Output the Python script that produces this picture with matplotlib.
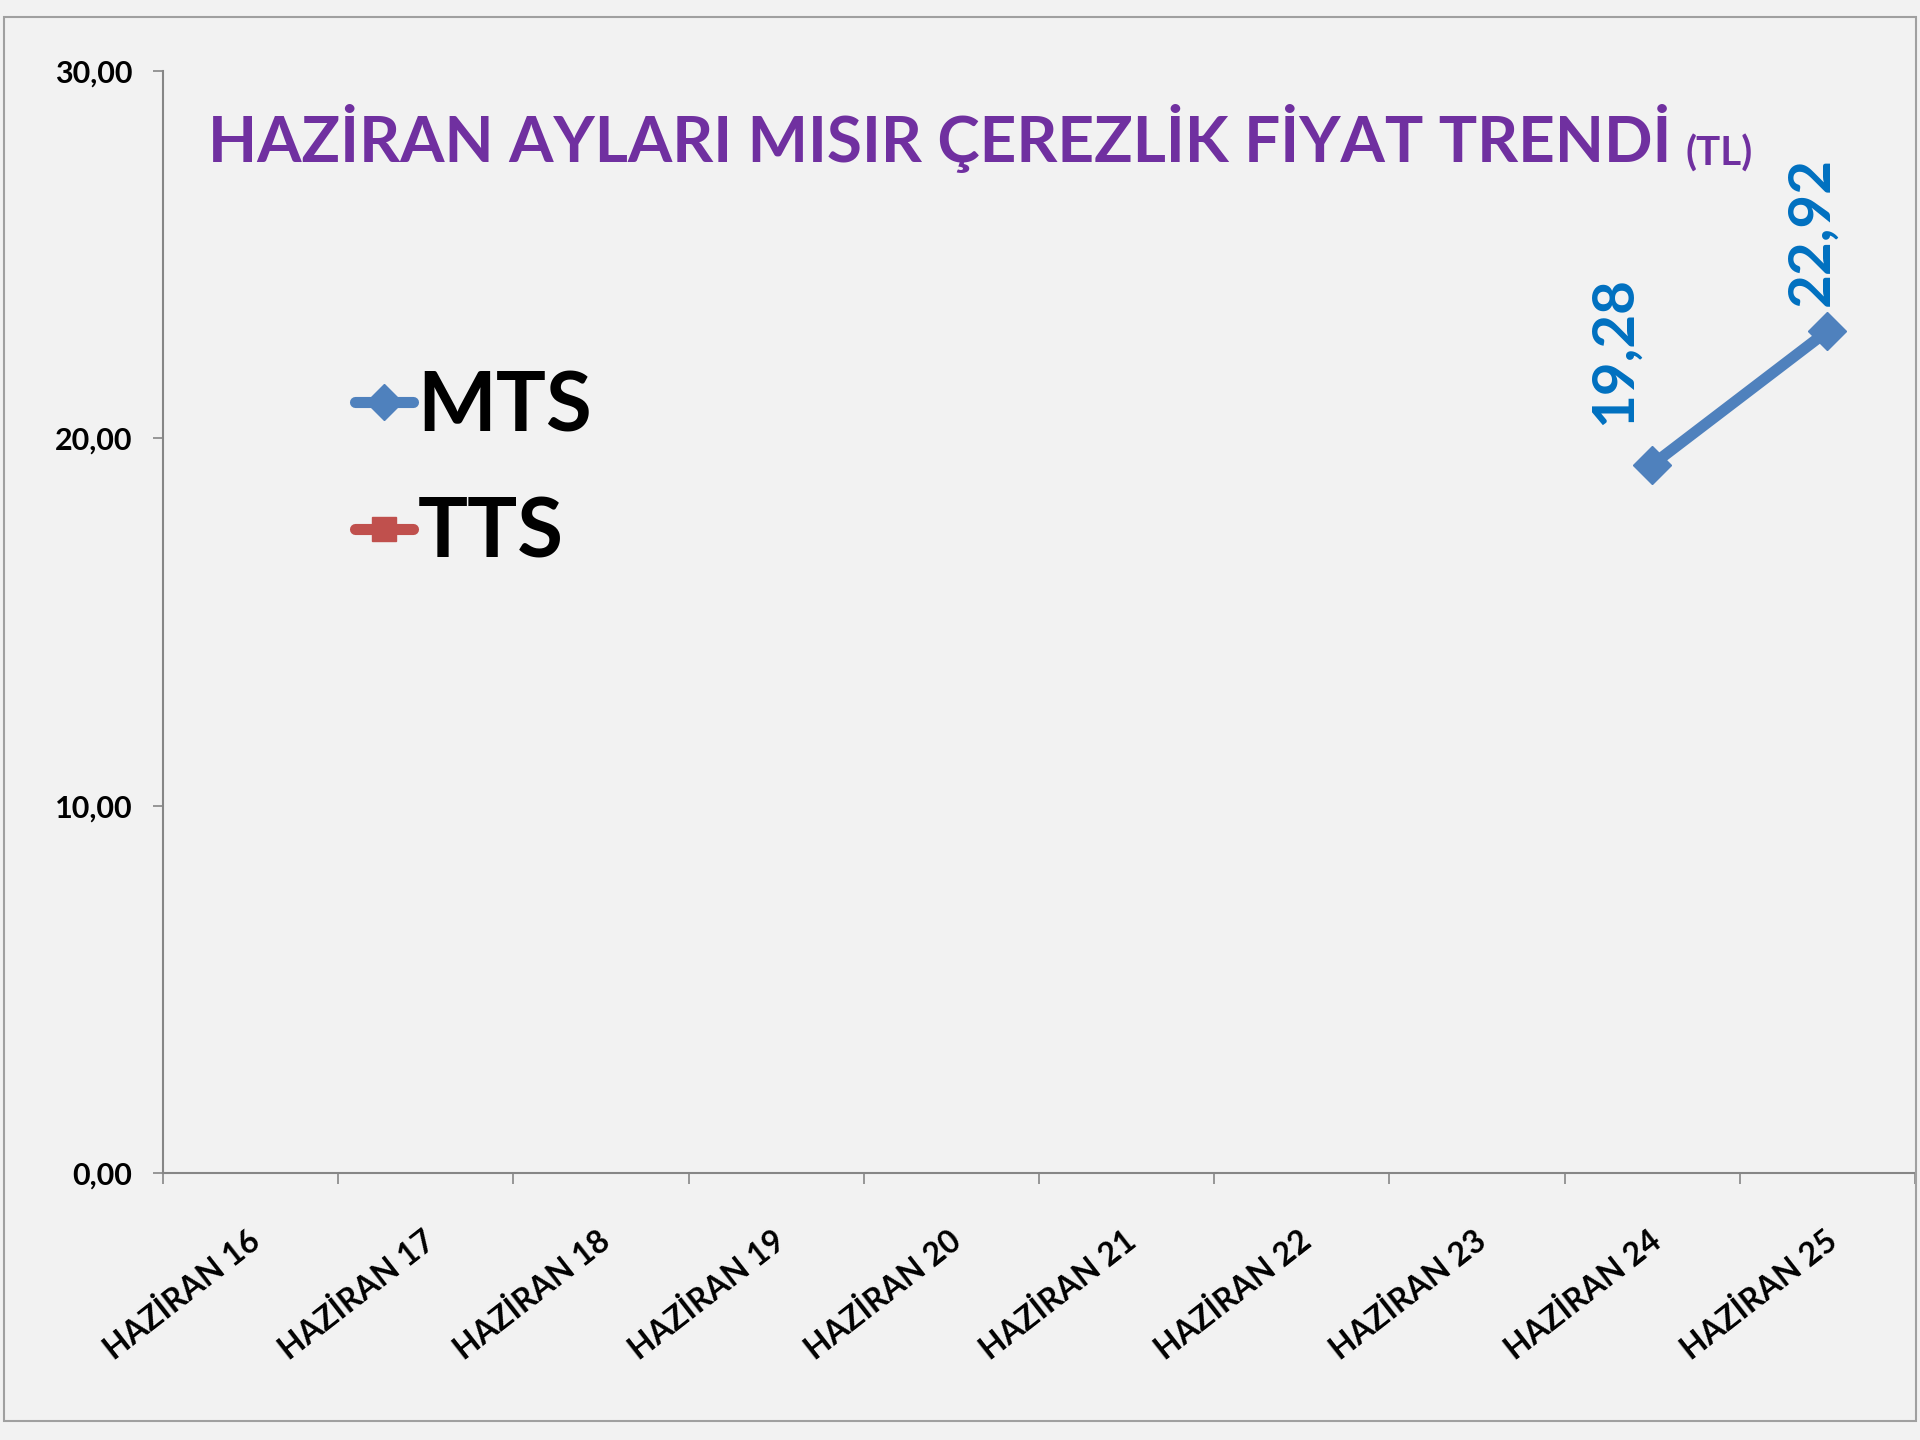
import numpy as np
import matplotlib
matplotlib.use("Agg")
import matplotlib.pyplot as plt
from matplotlib.patches import Rectangle
from matplotlib.transforms import ScaledTranslation

plt.rcParams['font.family'] = ['Lato', 'DejaVu Sans']

# ---- data ----
categories = ["HAZİRAN 16", "HAZİRAN 17", "HAZİRAN 18", "HAZİRAN 19", "HAZİRAN 20",
              "HAZİRAN 21", "HAZİRAN 22", "HAZİRAN 23", "HAZİRAN 24", "HAZİRAN 25"]
mts = [np.nan, np.nan, np.nan, np.nan, np.nan, np.nan, np.nan, np.nan, 19.28, 22.92]
tts = [np.nan] * 10
y_ticks = [0, 10, 20, 30]
y_tick_labels = ["0,00", "10,00", "20,00", "30,00"]
title_main = "HAZİRAN AYLARI MISIR ÇEREZLİK FİYAT TRENDİ"
title_unit = "(TL)"

BG = "#F2F2F2"
AXC = "#868686"
MTS_C = "#4F81BD"
TTS_C = "#C0504D"
LBL_C = "#0070C0"
TITLE_C = "#7030A0"

fig = plt.figure(figsize=(19.2, 14.4), dpi=100, facecolor=BG)

# outer chart border
fig.patches.append(Rectangle((4/1920, 1-1421/1440), (1916-4)/1920, (1421-17)/1440,
                             transform=fig.transFigure, fill=False,
                             edgecolor="#A0A0A0", linewidth=1.5))

ax = fig.add_axes([163/1920, 1-1173/1440, (1915-163)/1920, (1173-71)/1440])
ax.set_facecolor("none")

x = np.arange(len(categories))
ax.plot(x, mts, color=MTS_C, linewidth=8, marker="D", markersize=19,
        solid_capstyle="round", label="MTS")
ax.plot(x, tts, color=TTS_C, linewidth=8, marker="s", markersize=18,
        solid_capstyle="round", label="TTS")

# data labels
offsets = [(-27, 29), (-11, 18)]
k = 0
for xi, v in zip(x, mts):
    if np.isnan(v):
        continue
    dx, dy = offsets[k]
    k += 1
    ax.annotate(f"{v:.2f}".replace(".", ","), xy=(xi, v), xytext=(dx, dy),
                textcoords="offset points", rotation=90, ha="center", va="bottom",
                fontsize=42, fontweight="bold", color=LBL_C)

ax.set_xlim(-0.5, len(categories) - 0.5)
ax.set_ylim(0, 30)

ax.set_yticks(y_ticks)
ax.set_yticklabels(y_tick_labels, fontsize=22, fontweight="bold")
ax.tick_params(axis="y", direction="out", length=7, width=1.2, color=AXC, pad=15)

ax.set_xticks(x)
ax.set_xticklabels(categories, fontsize=23, fontweight="bold", rotation=38,
                   ha="right", va="center", rotation_mode="anchor")
ax.tick_params(axis="x", which="major", length=0, pad=46)
shift = ScaledTranslation(4/72, 0, fig.dpi_scale_trans)
for lbl in ax.get_xticklabels():
    lbl.set_transform(lbl.get_transform() + shift)
ax.set_xticks(np.arange(-0.5, len(categories)), minor=True)
ax.tick_params(axis="x", which="minor", direction="out", length=8, width=1.2, color=AXC)

for s in ["top", "right"]:
    ax.spines[s].set_visible(False)
for s in ["left", "bottom"]:
    ax.spines[s].set_color(AXC)
    ax.spines[s].set_linewidth(1.5)

# title
t = ax.text(208/1920, 1-162/1440, title_main, transform=fig.transFigure,
            fontsize=46, fontweight="bold", color=TITLE_C, ha="left", va="baseline")
ax.annotate(title_unit, xy=(1, 0), xycoords=t, xytext=(10, 0),
            textcoords="offset points", fontsize=29, fontweight="bold",
            color=TITLE_C, ha="left", va="bottom")

# legend
leg = ax.legend(loc="center left", bbox_to_anchor=(355/1920, 1-471/1440),
                bbox_transform=fig.transFigure, frameon=False,
                prop={"size": 60, "weight": "bold"}, handlelength=0.7,
                handletextpad=0.05, labelspacing=0.62, borderpad=0,
                borderaxespad=0, markerscale=0.95)

fig.savefig("out.png", dpi=100, facecolor=BG)
